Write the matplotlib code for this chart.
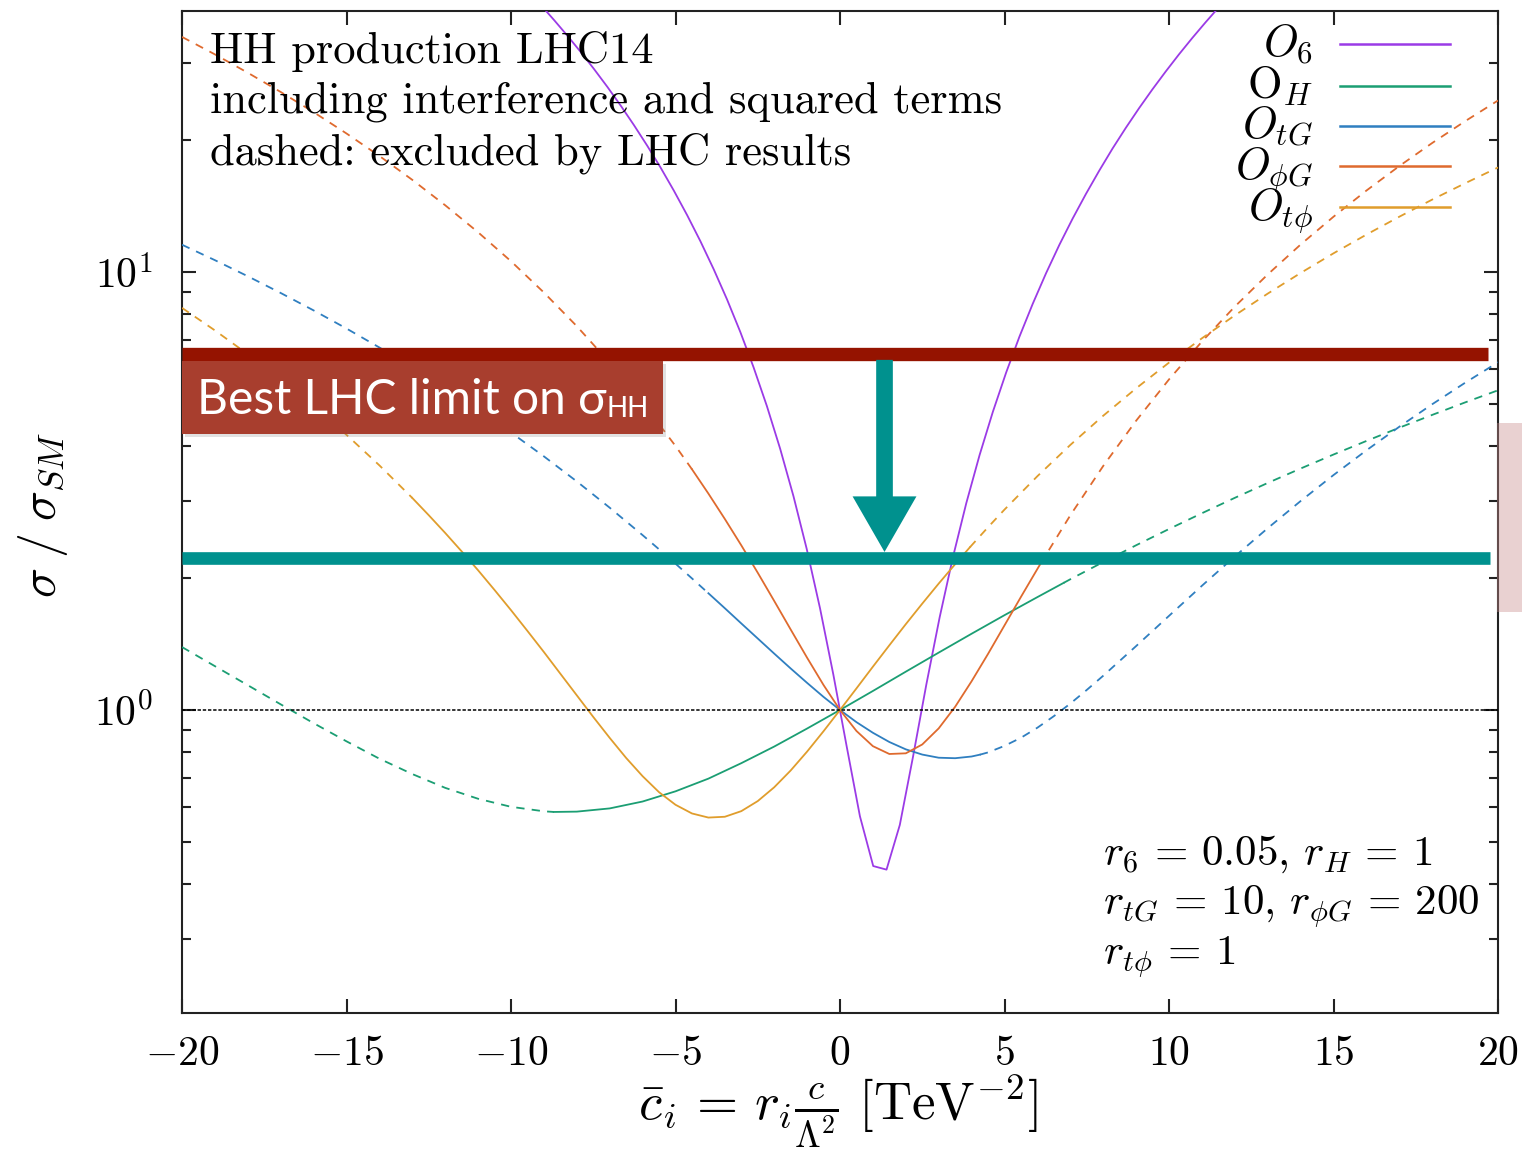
import numpy as np
import matplotlib
matplotlib.use("Agg")
import matplotlib.pyplot as plt
from matplotlib.patches import Rectangle, FancyArrowPatch, ArrowStyle
from matplotlib.ticker import FixedLocator, LogLocator, NullFormatter, NullLocator

plt.rcParams['mathtext.fontset'] = 'cm'
plt.rcParams['font.family'] = ['cmr10', 'DejaVu Serif']
plt.rcParams['axes.unicode_minus'] = False
plt.rcParams['axes.formatter.use_mathtext'] = True

# ---------------- data ----------------
# O6 (sampled on the gnuplot grid of 100 points over [-20, 20])
o6_x = [-9.899, -9.495, -9.091, -8.687, -8.283, -7.879, -7.475, -7.071, -6.667, -6.263,
        -5.859, -5.455, -5.051, -4.646, -4.242, -3.838, -3.434, -3.030, -2.626, -2.222,
        -1.818, -1.414, -1.010, -0.606, -0.202, 0.202, 0.606, 1.010, 1.414, 1.818,
        2.222, 2.626, 3.030, 3.434, 3.838, 4.242, 4.646, 5.051, 5.455, 5.859,
        6.263, 6.667, 7.071, 7.475, 7.879, 8.283, 8.687, 9.091, 9.495, 9.899,
        10.303, 10.707, 11.111, 11.515, 11.919]
o6_y = [47.2, 43.87, 40.66, 37.57, 34.61, 31.77, 29.05, 26.46, 23.99, 21.64,
        19.42, 17.32, 15.34, 13.48, 11.75, 10.14, 8.657, 7.295, 6.055, 4.940,
        3.946, 3.076, 2.329, 1.705, 1.204, 0.8265, 0.5718, 0.4402, 0.4320, 0.5464,
        0.784, 1.145, 1.629, 2.235, 2.965, 3.818, 4.794, 5.896, 7.12, 8.462,
        9.934, 11.53, 13.24, 15.07, 17.03, 19.13, 21.33, 23.66, 26.11, 28.68,
        31.39, 34.21, 37.15, 40.22, 43.42]

oh_x = [-20, -19, -18, -17, -16, -15, -14, -13, -12, -11, -10, -9, -8.7, -8, -7, -6, -5,
        -4, -3, -2, -1, 0, 1, 2, 3, 4, 5, 6, 6.8, 7, 8, 9, 10, 11, 12, 13, 14, 15, 16,
        17, 18, 19, 20]
oh_y = [1.392, 1.259, 1.139, 1.030, 0.933, 0.848, 0.774, 0.714, 0.664, 0.627, 0.601,
        0.587, 0.585, 0.586, 0.596, 0.618, 0.652, 0.697, 0.756, 0.825, 0.907, 1.0,
        1.105, 1.223, 1.352, 1.493, 1.646, 1.810, 1.951, 1.988, 2.176, 2.377, 2.589,
        2.813, 3.050, 3.298, 3.558, 3.830, 4.113, 4.410, 4.717, 5.037, 5.368]

otg_x = [-20, -19, -18, -17, -16, -15, -14, -13, -12, -11, -10, -9, -8, -7, -6,
         -5.5, -5, -4.5, -4, -3.5, -3, -2.5, -2, -1.5, -1, -0.5, 0, 0.5, 1, 1.5, 2,
         2.5, 3, 3.5, 4, 4.25, 4.5, 5, 5.5, 6, 6.5, 7, 7.5,
         8, 9, 10, 11, 12, 13, 14, 15, 16, 17, 18, 19, 20]
otg_y = [11.54, 10.64, 9.777, 8.954, 8.171, 7.428, 6.723, 6.058, 5.433, 4.847, 4.300,
         3.793, 3.325, 2.896, 2.507,
         2.327, 2.158, 1.997, 1.847, 1.707, 1.576, 1.456, 1.345, 1.244, 1.153, 1.071,
         1.0, 0.938, 0.887, 0.845, 0.813, 0.791, 0.778, 0.776, 0.783, 0.7905,
         0.800, 0.828, 0.864, 0.911, 0.968, 1.034, 1.111,
         1.197, 1.399, 1.640, 1.921, 2.241, 2.600, 2.999, 3.438, 3.915, 4.432, 4.989,
         5.585, 6.220]

ophig_x = [-20, -19, -18, -17, -16, -15, -14, -13, -12, -11, -10, -9, -8, -7, -6, -5,
           -4.5, -4, -3.5, -3, -2.5, -2, -1.5, -1, -0.5, 0, 0.5, 1, 1.5, 2, 2.5, 3,
           3.5, 4, 4.5, 5, 5.5, 6, 6.1, 7, 8, 9, 10, 11, 12, 13, 14, 15, 16, 17, 18,
           19, 20]
ophig_y = [34.41, 31.39, 28.50, 25.76, 23.17, 20.71, 18.40, 16.23, 14.20, 12.32, 10.58,
           8.976, 7.520, 6.206, 5.035, 4.006, 3.545, 3.119, 2.729, 2.376, 2.057, 1.774,
           1.527, 1.316, 1.140, 1.0, 0.8955, 0.8267, 0.7934, 0.7962, 0.8341, 0.9077,
           1.017, 1.163, 1.343, 1.560, 1.812, 2.099, 2.161, 2.782, 3.606, 4.574, 5.684,
           6.936, 8.335, 9.870, 11.55, 13.37, 15.34, 17.45, 19.70, 22.09, 24.63]

otphi_x = [-20, -19, -18, -17, -16, -15, -14, -13, -12.5, -12, -11.5, -11, -10.5, -10,
           -9.5, -9, -8.5, -8, -7.5, -7, -6.5, -6, -5.5, -5, -4.5, -4, -3.5, -3, -2.5,
           -2, -1.5, -1, -0.5, 0, 0.5, 1, 1.5, 2, 2.5, 3, 3.5, 3.95, 4.5, 5, 6, 7, 8,
           9, 10, 11, 12, 13, 14, 15, 16, 17, 18, 19, 20]
otphi_y = [8.28, 7.355, 6.490, 5.684, 4.936, 4.248, 3.618, 3.048, 2.784, 2.536, 2.302,
           2.084, 1.879, 1.690, 1.515, 1.356, 1.210, 1.080, 0.964, 0.8635, 0.777, 0.706,
           0.649, 0.6075, 0.5804, 0.568, 0.5704, 0.5875, 0.6194, 0.666, 0.7274, 0.8035,
           0.8944, 1.0, 1.120, 1.2555, 1.405, 1.570, 1.749, 1.9435, 2.152, 2.353, 2.614,
           2.8675, 3.418, 4.0275, 4.696, 5.424, 6.210, 7.056, 7.960, 8.924, 9.946,
           11.03, 12.17, 13.37, 14.63, 15.94, 17.32]

# ranges of c_i still allowed by LHC data (outside: dashed)
allowed_lo = [None, -8.7, -4.0, -4.5, -13.0]
allowed_hi = [None, 6.8, 4.25, 6.1, 3.95]

labels = [r'$O_6$', r'$\mathrm{O}_H$', r'$O_{tG}$', r'$O_{\phi G}$', r'$O_{t\phi}$']
colors = ['#9b3be6', '#1b9e73', '#2f7fc0', '#df6a2e', '#e09d2c']
xs = [o6_x, oh_x, otg_x, ophig_x, otphi_x]
ys = [o6_y, oh_y, otg_y, ophig_y, otphi_y]

sm_ratio = 1.0
limit_now = 6.49     # current best LHC limit on sigma_HH / sigma_SM
limit_future = 2.224

x_ticks = [-20, -15, -10, -5, 0, 5, 10, 15, 20]
x_tick_labels = [r'$-20$', r'$-15$', r'$-10$', r'$-5$', r'$0$', r'$5$', r'$10$', r'$15$', r'$20$']
y_ticks = [1, 10]
y_tick_labels = [r'$10^0$', r'$10^1$']

# ---------------- figure ----------------
W, H = 1522, 1149
fig = plt.figure(figsize=(W / 100, H / 100), dpi=100)
ax = fig.add_axes([182 / W, 1 - 1013 / H, (1498 - 182) / W, (1013 - 11) / H])
ax.set_yscale('log')
ax.set_xlim(-20, 20)
ax.set_ylim(0.2033, 39.43)

LW = 1.3
DASH = (0, (4.6, 4.0))
for x, y, lo, hi, c in zip(xs, ys, allowed_lo, allowed_hi, colors):
    x = np.asarray(x, float)
    y = np.asarray(y, float)
    if lo is None:
        ax.plot(x, y, color=c, lw=LW, zorder=3)
        continue
    left = x <= lo
    mid = (x >= lo) & (x <= hi)
    right = x >= hi
    ax.plot(x[left], y[left], color=c, lw=LW, ls=DASH, zorder=3)
    ax.plot(x[mid], y[mid], color=c, lw=LW, zorder=3)
    ax.plot(x[right], y[right], color=c, lw=LW, ls=DASH, zorder=3)

ax.axhline(sm_ratio, color='black', lw=1.1, ls=(0, (2.2, 1.2)), zorder=4)

# axes styling
for s in ax.spines.values():
    s.set_linewidth(1.5)
    s.set_color('#222222')
ax.xaxis.set_major_locator(FixedLocator(x_ticks))
ax.set_xticklabels(x_tick_labels)
ax.xaxis.set_minor_locator(NullLocator())
ax.yaxis.set_major_locator(FixedLocator(y_ticks))
ax.set_yticklabels(y_tick_labels)
ax.yaxis.set_minor_locator(LogLocator(base=10, subs=np.arange(2, 10)))
ax.yaxis.set_minor_formatter(NullFormatter())
ax.tick_params(which='both', direction='in', top=True, right=True, width=1.5, color='#222222')
ax.tick_params(which='major', length=10, labelsize=30)
ax.tick_params(which='minor', length=6.5)
ax.tick_params(axis='x', pad=16)
ax.tick_params(axis='y', pad=21)

# legend (drawn by hand, right-aligned labels)
leg_rows = [44, 86, 126, 166, 207]
for lab, c, py in zip(labels, colors, leg_rows):
    yf = (1013 - py) / 1002
    ax.plot([(1340 - 182) / 1316, (1450 - 182) / 1316], [yf, yf], color=c, lw=1.8,
            transform=ax.transAxes, clip_on=False, zorder=5)
    ax.text((1313 - 182) / 1316, (1013 - py - 12) / 1002, lab, transform=ax.transAxes,
            ha='right', va='baseline', fontsize=32, zorder=5)

# annotations
note = ['HH production LHC14', 'including interference and squared terms',
        'dashed: excluded by LHC results']
for line, py in zip(note, [63, 113, 164]):
    ax.text((210 - 182) / 1316, (1013 - py) / 1002, line, transform=ax.transAxes,
            ha='left', va='baseline', fontsize=32, zorder=5)

rnote = [r'$r_6 \,=\, 0.05,\, r_H \,=\, 1$', r'$r_{tG} \,=\, 10,\, r_{\phi G} \,=\, 200$',
         r'$r_{t\phi} \,=\, 1$']
for line, py in zip(rnote, [865, 915, 965]):
    ax.text((1103 - 182) / 1316, (1013 - py) / 1002, line, transform=ax.transAxes,
            ha='left', va='baseline', fontsize=31, zorder=5)

fig.text(838 / W, 1 - 1111 / H, r'$\bar{c}_i\, =\, r_i \frac{c}{\Lambda^2}\ [\mathrm{TeV}^{-2}]$',
         ha='center', va='center', fontsize=38)
fig.text(43 / W, 1 - 515 / H, r'$\sigma\;/\;\sigma_{SM}$', rotation=90,
         ha='center', va='center', fontsize=36)

# overlay: current limit, projected limit, arrow
ax.plot([-20, 19.70], [limit_now, limit_now], color='#951300', lw=9.6,
        solid_capstyle='butt', zorder=6)
ax.plot([-20, 19.76], [limit_future, limit_future], color='#00918e', lw=9.1,
        solid_capstyle='butt', zorder=6)
arrow = FancyArrowPatch((1.353, 6.30), (1.353, 2.295),
                        arrowstyle=ArrowStyle.Simple(head_length=40, head_width=46, tail_width=12),
                        mutation_scale=1, color='#00918e', lw=0, shrinkA=0, shrinkB=0, zorder=6)
ax.add_patch(arrow)

# label box
bx0, bx1 = 0.0, (663 - 182) / 1316
by0, by1 = (1013 - 434) / 1002, (1013 - 361) / 1002
ax.add_patch(Rectangle((bx0 + 0.002, by0 - 0.003), bx1 - bx0, by1 - by0, transform=ax.transAxes,
                       facecolor='#888888', alpha=0.25, lw=0, zorder=6.5, clip_on=False))
ax.add_patch(Rectangle((bx0, by0), bx1 - bx0, by1 - by0, transform=ax.transAxes,
                       facecolor='#a83e2e', lw=0, zorder=7, clip_on=False))
t = ax.text((197 - 182) / 1316, (1013 - 414) / 1002, 'Best LHC limit on σ',
            transform=ax.transAxes, ha='left', va='baseline', fontsize=34.5,
            family=['Lato', 'DejaVu Sans'], fontweight='normal', color='white', zorder=8)
fig.canvas.draw()
bb = t.get_window_extent(fig.canvas.get_renderer())
ax.text(bb.x1 / W, (1149 - 417) / H, 'HH', transform=fig.transFigure, ha='left',
        va='baseline', fontsize=20, family=['Lato', 'DejaVu Sans'], fontweight='normal',
        color='white', zorder=8)

# side marker
fig.add_artist(Rectangle((1497 / W, 1 - 612 / H), 25 / W, 189 / H, transform=fig.transFigure,
                         facecolor='#c88c8c', alpha=0.4, lw=0, zorder=10))

fig.savefig('out.png', dpi=100, facecolor='white')
